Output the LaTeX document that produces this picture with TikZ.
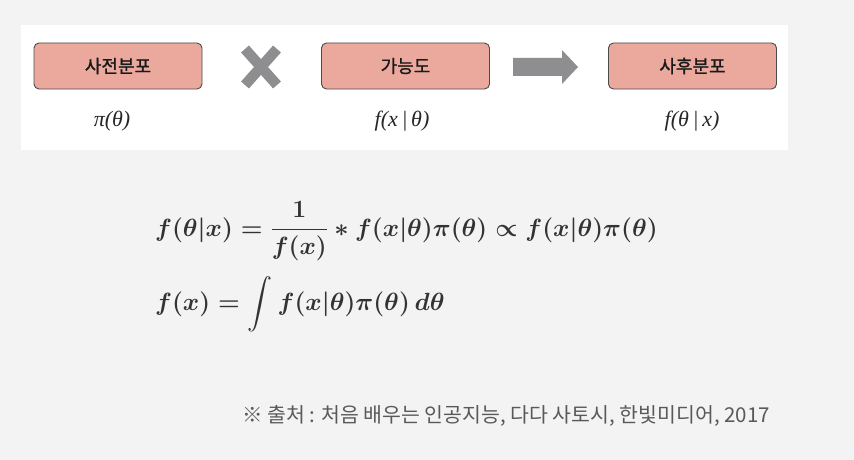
\documentclass[tikz,border=0pt]{standalone}
\usepackage{amsmath}
\usepackage{amsfonts}
\usepackage{fontspec}
\usetikzlibrary{calc}
\newfontfamily\kr{Noto Sans CJK KR}
\newfontfamily\krb[FakeBold=1.2]{Noto Sans CJK KR}
\newfontfamily\tms{Liberation Serif}
\definecolor{bg}{HTML}{F3F3F3}
\definecolor{boxfill}{HTML}{EBA99E}
\definecolor{boxline}{HTML}{4A4A4A}
\definecolor{markgray}{HTML}{8E8E90}
\definecolor{eqc}{HTML}{333333}
\definecolor{citec}{HTML}{595959}
\tikzset{
  distbox/.style={draw=boxline, line width=0.9pt, fill=boxfill, rounded corners=5pt,
    minimum width=168pt, minimum height=46pt, inner sep=0pt,
    font=\krb\fontsize{18}{20}\selectfont, text=black!90},
  mathlabel/.style={font=\tms\itshape\fontsize{22}{24}\selectfont, inner sep=0pt, text=black!85},
  eq/.style={font=\fontsize{25}{30}\selectfont, text=eqc, inner sep=0pt, anchor=base west},
  timesstroke/.style={draw=markgray, line width=10.5pt},
}
\begin{document}
\begin{tikzpicture}[x=1pt,y=-1pt]
\useasboundingbox (0,0) rectangle (854,460);
\fill[bg] (0,0) rectangle (854,460);
\fill[white] (21,25) rectangle (788,150);
\node[distbox] (prior) at (118,66) {사전분포};
\node[distbox] (like) at (405.5,66) {가능도};
\node[distbox] (post) at (692.5,66) {사후분포};
\node[mathlabel] (lp) at (112,121) {π(θ)};
\node[mathlabel] (ll) at (402,121) {f(x\,|\,θ)};
\node[mathlabel] (lq) at (692,121) {f(θ\,|\,x)};
% times mark
\coordinate (xc) at (261,67);
\draw[timesstroke] ($(xc)+(-16,-18)$) -- ($(xc)+(16,18)$);
\draw[timesstroke] ($(xc)+(16,-18)$) -- ($(xc)+(-16,18)$);
% arrow
\fill[markgray] (513,58) -- (562,58) -- (562,50) -- (578,67) -- (562,84) -- (562,76) -- (513,76) -- cycle;
% equations
\node[eq] (eq1) at (155,236) {$\boldsymbol{f(\theta|x) = \dfrac{1}{f(x)} * f(x|\theta)\pi(\theta) \propto f(x|\theta)\pi(\theta)}$};
\node[eq] (eq2) at (155,310) {$\displaystyle\boldsymbol{f(x) = \int f(x|\theta)\pi(\theta)\,d\theta}$};
\node[font=\kr\fontsize{20.5}{24}\selectfont, text=citec, anchor=west, inner sep=0pt] (src) at (242,416) {※ 출처 : 처음 배우는 인공지능, 다다 사토시, 한빛미디어, 2017};
\end{tikzpicture}
\end{document}
